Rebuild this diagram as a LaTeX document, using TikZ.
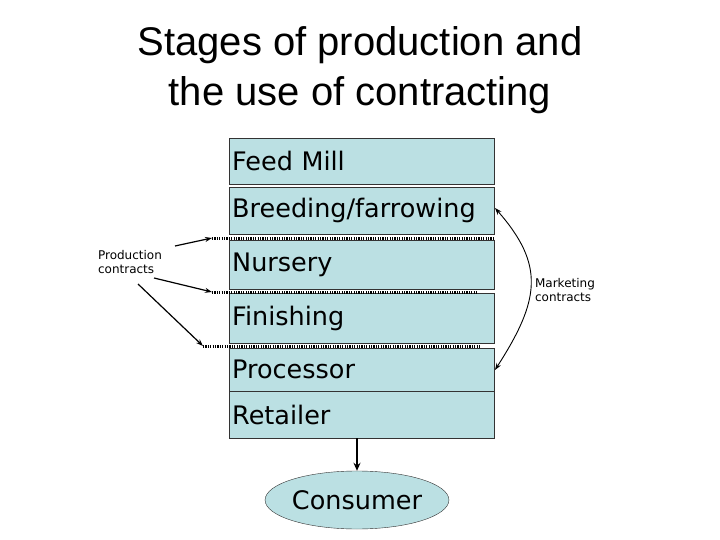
\documentclass[tikz,border=0pt]{standalone}
\usepackage{fontspec}
\setmainfont{Liberation Sans}
\newfontfamily\boxfont{DejaVu Sans}
\usetikzlibrary{arrows.meta,shapes.geometric}
\definecolor{boxfill}{RGB}{187,224,227}
\begin{document}
\begin{tikzpicture}[x=1pt,y=-1pt,
  stage/.style={draw=black!80,fill=boxfill,minimum width=265pt,inner sep=0pt,anchor=north west,text width=259pt,align=left,font=\boxfont\fontsize{25.5}{28}\selectfont},
  dots/.style={line width=3pt,dash pattern=on 1.2pt off 1.2pt},
  arr/.style={-{Stealth[length=7pt,width=5pt]},line width=1.2pt}]
\useasboundingbox (0,0) rectangle (720,540);
\node[font=\fontsize{40}{50}\selectfont,align=center] (title) at (360,70) {Stages of production and\\the use of contracting};
\node[stage,minimum height=46pt] (feed) at (229,138) {Feed Mill};
\node[stage,minimum height=47pt] (breed) at (229,187) {Breeding/farrowing};
\node[stage,minimum height=49pt] (nurs) at (229,240) {Nursery};
\node[stage,minimum height=50pt] (fin) at (229,293) {Finishing};
\node[stage,minimum height=43pt] (proc) at (229,348) {Processor};
\node[stage,minimum height=47pt] (ret) at (229,391) {Retailer};
\coordinate (d1a) at (212,238); \coordinate (d1b) at (494,238);
\coordinate (d2a) at (212,292); \coordinate (d2b) at (477,292);
\coordinate (d3a) at (203,346); \coordinate (d3b) at (481,346);
\draw[dots] (d1a) -- (d1b);
\draw[dots] (d2a) -- (d2b);
\draw[dots] (d3a) -- (d3b);
\node[font=\boxfont\fontsize{12}{14}\selectfont,align=left] (prod) at (130,262) {Production\\contracts};
\node[font=\boxfont\fontsize{12}{14}\selectfont,align=left] (mkt) at (565,290) {Marketing\\contracts};
\coordinate (p1) at (175,246);
\coordinate (p2) at (154,278);
\coordinate (p3) at (138,284);
\draw[arr] (p1) -- (d1a);
\draw[arr] (p2) -- (d2a);
\draw[arr] (p3) -- (d3a);
\coordinate (m1) at (495,208); \coordinate (m2) at (495,370);
\draw[{Stealth[length=7pt,width=5pt]}-{Stealth[length=7pt,width=5pt]},line width=0.9pt] (m1) .. controls (545,265) and (540,300) .. (m2);
\node[draw=black!80,fill=boxfill,ellipse,minimum width=145pt,minimum height=58pt,inner sep=0pt,font=\boxfont\fontsize{25.5}{28}\selectfont] (cons) at (357,500) {Consumer};
\draw[-{Stealth[length=8pt,width=7pt]},line width=1.5pt] (cons.north |- ret.south) -- (cons.north);
\end{tikzpicture}
\end{document}
